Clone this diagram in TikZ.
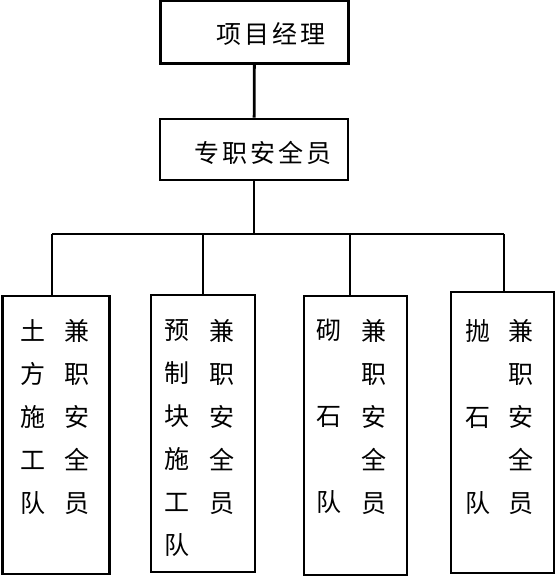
\documentclass[tikz,border=0pt]{standalone}
\usepackage{fontspec}
\newfontfamily\cjk{Noto Sans CJK SC}
\usetikzlibrary{positioning}
\def\gap{\hspace{3pt}}

\begin{document}
\begin{tikzpicture}
[x=1pt,y=-1pt,
   box/.style={draw,line width=2.8pt,rectangle,inner sep=0pt},
   lb/.style={font=\cjk\fontsize{25}{28}\selectfont,inner sep=0pt},
   col/.style={font=\cjk\fontsize{25}{43}\selectfont,align=center,inner sep=0pt,anchor=north},
   link/.style={line width=2.8pt}]
\useasboundingbox (0,0) rectangle (556,577);
%% top
\node[box,minimum width=188pt,minimum height=63pt] (pm) at (254.5,32) {};
\node[lb] (pmtext) at (271,34) {项\gap 目\gap 经\gap 理};
\node[box,minimum width=188pt,minimum height=61pt] (safe) at (254,149.5) {};
\node[lb] (safetext) at (263,153) {专\gap 职\gap 安\gap 全\gap 员};
%% teams
\node[box,minimum width=107pt,minimum height=278pt] (earth) at (56,435) {};
\node[box,minimum width=104pt,minimum height=277pt] (precast) at (203,433.5) {};
\node[box,minimum width=103pt,minimum height=279pt] (masonry) at (355.5,435.5) {};
\node[box,minimum width=103pt,minimum height=281pt] (riprap) at (502.5,432.5) {};
\node[col] (earthA) at (33,319) {土\\方\\施\\工\\队};
\node[col] (earthB) at (77,319) {兼\\职\\安\\全\\员};
\node[col] (precastA) at (177,319) {预\\制\\块\\施\\工\\队};
\node[col] (precastB) at (222,319) {兼\\职\\安\\全\\员};
\node[col] (masonryA) at (329,319) {砌\\{}\\石\\{}\\队};
\node[col] (masonryB) at (374,319) {兼\\职\\安\\全\\员};
\node[col] (riprapA) at (478,319) {抛\\{}\\石\\{}\\队};
\node[col] (riprapB) at (521,319) {兼\\职\\安\\全\\员};
%% links
\coordinate (busL) at (52,234);
\coordinate (busR) at (504,234);
\draw[link] (pm) -- (safe);
\draw[link] (safe.south) -- (safe.south |- busL);
\draw[link] (busL) -- (busR);
\draw[link] (busL) -- (busL |- earth.north);
\draw[link] (precast.north |- busL) -- (precast.north);
\draw[link] (masonry.north -| 350,0) -- (350,234);
\draw[link] (busR) -- (busR |- riprap.north);
\end{tikzpicture}
\end{document}
